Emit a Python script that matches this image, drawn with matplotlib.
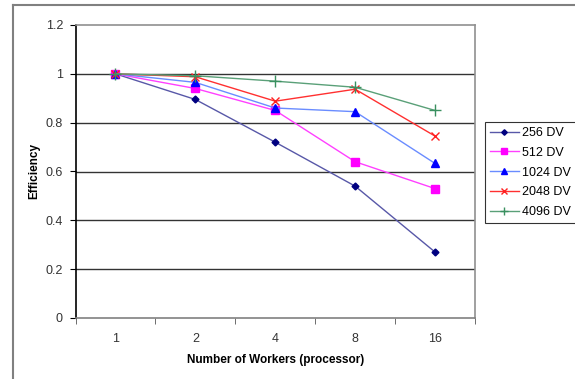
import matplotlib
matplotlib.use("Agg")
import matplotlib.pyplot as plt
from matplotlib.lines import Line2D
import numpy as np

plt.rcParams['font.family'] = ['Liberation Sans', 'DejaVu Sans']

workers = ['1', '2', '4', '8', '16']
eff_256 = [1.0, 0.895, 0.72, 0.54, 0.27]
eff_512 = [1.0, 0.94, 0.85, 0.64, 0.53]
eff_1024 = [1.0, 0.965, 0.86, 0.845, 0.633]
eff_2048 = [1.0, 0.988, 0.888, 0.937, 0.745]
eff_4096 = [1.0, 0.992, 0.97, 0.945, 0.85]

series = [
    ('256 DV', eff_256, '#5858a8', '#000080', 'D', 3.5),
    ('512 DV', eff_512, '#ff40ff', '#ff00ff', 's', 5.5),
    ('1024 DV', eff_1024, '#6a8cff', '#0000ff', '^', 5.5),
    ('2048 DV', eff_2048, '#ff3030', '#ff2020', 'x', 6),
    ('4096 DV', eff_4096, '#5aa078', '#3a9060', '+', 8),
]

fig = plt.figure(figsize=(5.75, 3.79), dpi=100)
ax = fig.add_axes([75.5 / 575, 1 - 318 / 379, (475 - 75.5) / 575, (318 - 25) / 379])

x = np.arange(len(workers))
for name, vals, lc, mc, mk, ms in series:
    ax.plot(x, vals, color=lc, lw=1, marker=mk, markersize=ms,
            markerfacecolor=mc, markeredgecolor=mc, markeredgewidth=1,
            label=name, zorder=3)

ax.set_xlim(-0.5, len(workers) - 0.5)
ax.set_ylim(0, 1.2)
ax.set_yticks(np.arange(0, 1.21, 0.2))
ax.set_yticklabels(['0', '0.2', '0.4', '0.6', '0.8', '1', '1.2'])
ax.set_xticks(x)
ax.set_xticklabels(workers)
ax.set_xticks(np.arange(-0.5, len(workers), 1), minor=True)
ax.tick_params(axis='x', which='major', length=0, pad=11, labelsize=9, colors='#333333')
ax.tick_params(axis='x', which='minor', length=4, direction='out', color='#555555')
ax.tick_params(axis='y', length=4, direction='out', labelsize=9, colors='#333333', pad=5)
ax.tick_params(axis='y', color='black')

for yv in [0.2, 0.4, 0.6, 0.8, 1.0]:
    ax.axhline(yv, color='#333333', lw=1, zorder=1)

ax.spines['left'].set_color('black')
ax.spines['bottom'].set_color('#808080')
ax.spines['top'].set_color('#909090')
ax.spines['right'].set_color('#909090')
for s in ax.spines.values():
    s.set_linewidth(1.2)

ax.set_xlabel('Number of Workers (processor)', fontsize=8.5, fontweight='bold', labelpad=6)
ax.set_ylabel('Efficiency', fontsize=8.5, fontweight='bold', labelpad=4)

leg = fig.legend(loc='upper left', bbox_to_anchor=(485 / 575, 1 - 122 / 379),
                 fontsize=9, frameon=True, fancybox=False, handlelength=2.3,
                 borderpad=0.4, labelspacing=0.62, handletextpad=0.25, borderaxespad=0,
                 markerscale=0.8)
leg.get_frame().set_edgecolor('black')
leg.get_frame().set_linewidth(0.8)

# outer chart border (top and left only visible)
fig.add_artist(Line2D([13 / 575, 1], [1 - 5 / 379, 1 - 5 / 379], color='#808080', lw=1.5))
fig.add_artist(Line2D([13 / 575, 13 / 575], [0, 1 - 5 / 379], color='#808080', lw=1.5))

fig.savefig('out.png', dpi=100)
